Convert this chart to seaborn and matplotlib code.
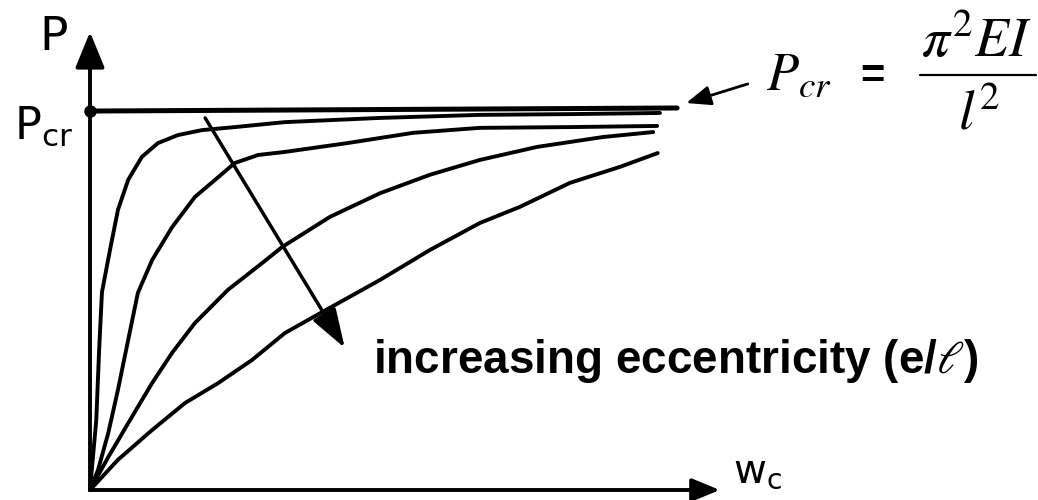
import matplotlib
matplotlib.use("Agg")
import matplotlib.pyplot as plt
import seaborn as sns
import pandas as pd

# load-deflection curves (w = w_c / w_max, P = P / P_cr)
w1 = [0, 0.011, 0.016, 0.021, 0.035, 0.049, 0.067, 0.091, 0.119, 0.154, 0.196, 0.254, 0.342, 0.509, 0.684, 0.842, 1.0]
p1 = [0, 0.183, 0.366, 0.518, 0.628, 0.733, 0.812, 0.872, 0.908, 0.929, 0.942, 0.950, 0.963, 0.974, 0.982, 0.984, 0.987]

w2 = [0, 0.014, 0.032, 0.049, 0.067, 0.084, 0.109, 0.144, 0.184, 0.225, 0.254, 0.295, 0.342, 0.451, 0.567, 0.684, 0.842, 0.995]
p2 = [0, 0.052, 0.149, 0.262, 0.393, 0.516, 0.602, 0.688, 0.767, 0.819, 0.856, 0.877, 0.885, 0.908, 0.935, 0.948, 0.950, 0.953]

w3 = [0, 0.032, 0.067, 0.109, 0.144, 0.184, 0.242, 0.302, 0.337, 0.421, 0.509, 0.596, 0.684, 0.784, 0.900, 0.988]
p3 = [0, 0.086, 0.175, 0.280, 0.359, 0.437, 0.524, 0.594, 0.636, 0.715, 0.777, 0.825, 0.864, 0.898, 0.924, 0.937]

w4 = [0, 0.049, 0.109, 0.167, 0.225, 0.284, 0.342, 0.404, 0.509, 0.596, 0.684, 0.754, 0.842, 0.930, 0.996]
p4 = [0, 0.079, 0.157, 0.228, 0.280, 0.340, 0.411, 0.463, 0.550, 0.628, 0.699, 0.741, 0.804, 0.846, 0.882]

# critical load line
pcr_w = [0, 1.03]
pcr_p = [0.992, 1.0]

curves = []
for name, w, p in [("e1", w1, p1), ("e2", w2, p2), ("e3", w3, p3), ("e4", w4, p4)]:
    curves.append(pd.DataFrame({"w": w, "P": p, "curve": name}))
df = pd.concat(curves, ignore_index=True)

sns.set_style("white")
plt.rcParams["mathtext.fontset"] = "stix"
plt.rcParams["text.color"] = "black"

W, H = 1038, 500
fig = plt.figure(figsize=(W / 100, H / 100), dpi=100)
ax = fig.add_axes([0, 0, 1, 1])
ax.set_xlim(-0.1579, 1.6632)
ax.set_ylim(-0.0262, 1.2827)
ax.axis("off")


def fp(x, y):
    # pixel position -> figure fraction
    return x / W, 1 - y / H


# curves
sns.lineplot(data=df, x="w", y="P", hue="curve", palette=["black"] * 4,
             estimator=None, sort=False, legend=False, lw=2.8,
             solid_joinstyle="round", solid_capstyle="round", ax=ax)
sns.lineplot(x=pcr_w, y=pcr_p, color="black", lw=3.6, ax=ax)
ax.plot(0, pcr_p[0], "o", ms=8, color="black")

# axes with arrow heads
axis_arrow = dict(arrowstyle="-|>,head_length=1.1,head_width=0.45",
                  mutation_scale=20, lw=2.8, color="black", shrinkA=0, shrinkB=0)
ax.annotate("", xy=(0, 1.199), xytext=(0, 0), arrowprops=axis_arrow)
x_arrow = dict(axis_arrow, arrowstyle="-|>,head_length=0.85,head_width=0.35")
ax.annotate("", xy=(1.105, 0), xytext=(0, 0), arrowprops=x_arrow)

# increasing eccentricity arrow
ax.annotate("", xy=(0.447, 0.372), xytext=(0.202, 0.974),
            arrowprops=dict(arrowstyle="-|>,head_length=1.2,head_width=0.4",
                            mutation_scale=20, lw=2.5, color="black",
                            shrinkA=0, shrinkB=0))
# arrow pointing at P_cr line end
ax.annotate("", xy=(1.046, 1.013), xytext=(1.154, 1.063),
            arrowprops=dict(arrowstyle="-|>,head_length=0.75,head_width=0.3",
                            mutation_scale=20, lw=2.0, color="black",
                            shrinkA=0, shrinkB=0))

# hand-drawn style labels
fig.text(*fp(53, 37), r"$\mathregular{P}$", fontsize=34, ha="center", va="center")
fig.text(*fp(44, 126), r"$\mathregular{P_{cr}}$", fontsize=32, ha="center", va="center")
fig.text(*fp(733, 482), r"$\mathregular{w_c}$", fontsize=29, ha="left", va="baseline")

# formula
fig.text(*fp(766, 90), r"$P_{cr}$", fontsize=38, ha="left", va="baseline")
fig.text(*fp(872, 77), "=", fontsize=30, fontweight="bold",
         family="Liberation Sans", ha="center", va="center")
fig.text(*fp(921, 57), r"$\pi^2 EI$", fontsize=40, ha="left", va="baseline")
fig.add_artist(plt.Line2D([920 / W, 1036 / W], [1 - 75 / H, 1 - 75 / H],
                          color="black", lw=1.6))
fig.text(*fp(958, 130), r"$l^2$", fontsize=40, ha="left", va="baseline")

fig.text(*fp(373, 373), r"increasing eccentricity (e/$\ell$)", fontsize=33,
         fontweight="bold", family="Liberation Sans", ha="left", va="baseline")

fig.savefig("out.png", dpi=100)
